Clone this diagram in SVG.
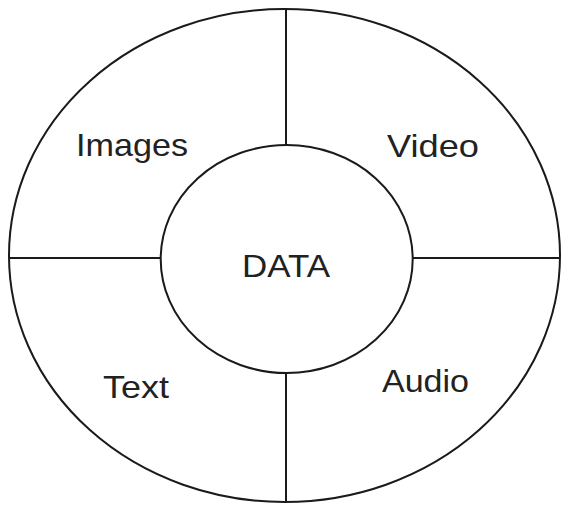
<svg xmlns="http://www.w3.org/2000/svg" width="561" height="506" viewBox="0 0 561 506">
  <style>
    .shape { fill: #ffffff; stroke: #1a1a1a; stroke-width: 2; }
    .conn { stroke: #1a1a1a; stroke-width: 2; fill: none; }
    .label { font-family: "Liberation Sans", Arial, sans-serif; font-size: 32px; fill: #222222; text-anchor: middle; }
  </style>
  <rect width="561" height="506" fill="#ffffff"/>
  <g id="outer">
    <ellipse class="shape" cx="284.5" cy="255.5" rx="275.5" ry="246.5"/>
  </g>
  <g id="connectors">
    <line class="conn" x1="286" y1="9" x2="286" y2="145"/>
    <line class="conn" x1="286" y1="373" x2="286" y2="502"/>
    <line class="conn" x1="9" y1="258" x2="161" y2="258"/>
    <line class="conn" x1="413" y1="258" x2="560" y2="258"/>
  </g>
  <g id="data">
    <ellipse class="shape" cx="286.7" cy="259" rx="126" ry="114"/>
    <text class="label" x="286" y="276.5" font-size="33" textLength="88" lengthAdjust="spacingAndGlyphs">DATA</text>
  </g>
  <g id="images">
    <text class="label" x="132" y="156" textLength="112" lengthAdjust="spacingAndGlyphs">Images</text>
  </g>
  <g id="video">
    <text class="label" x="433" y="156.5" textLength="92" lengthAdjust="spacingAndGlyphs">Video</text>
  </g>
  <g id="text">
    <text class="label" x="136" y="398" textLength="66" lengthAdjust="spacingAndGlyphs">Text</text>
  </g>
  <g id="audio">
    <text class="label" x="425.5" y="392" textLength="87" lengthAdjust="spacingAndGlyphs">Audio</text>
  </g>
</svg>
